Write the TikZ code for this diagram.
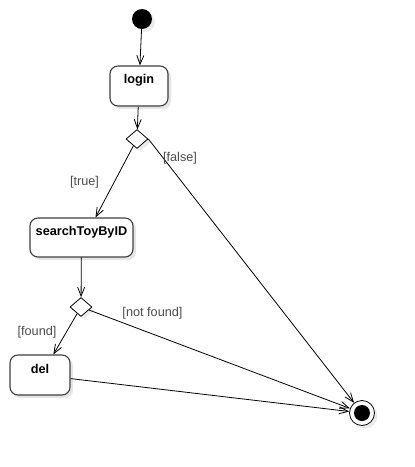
\documentclass[tikz,border=0pt]{standalone}
\usepackage{fontspec}
\setmainfont{Liberation Sans}
\usetikzlibrary{arrows.meta,shapes.geometric,shadows}

\begin{document}
\begin{tikzpicture}[x=1pt,y=1pt,yscale=-1,
  action/.style={draw=black!75, line width=1.1pt, rounded corners=8pt, fill=white,
    drop shadow={shadow xshift=3pt, shadow yshift=-3pt, fill=black!10, opacity=1}},
  actname/.style={font=\fontsize{12.7}{15}\selectfont\bfseries, inner sep=0.75pt},
  choice/.style={diamond, draw, fill=white, line width=0.8pt, inner sep=0pt,
    minimum width=22pt, minimum height=19pt,
    drop shadow={shadow xshift=3pt, shadow yshift=-3pt, fill=black!8, opacity=1}},
  guard/.style={font=\fontsize{12.7}{15}\selectfont, text=black!70, inner sep=0.75pt},
  flow/.style={draw=black, line width=0.8pt, -{Straight Barb[length=9pt,width=7pt]}}]
\useasboundingbox (0,0) rectangle (415,467);

%Shape: Initial node
\node [circle, fill=black, inner sep=0pt, minimum size=20pt,
  drop shadow={shadow xshift=3pt, shadow yshift=-3pt, fill=black!8, opacity=1}] (start) at (142,19) {};

%Shape: Actions
\node [action, minimum width=58pt, minimum height=40pt] (login) at (139,86) {};
\node [action, minimum width=103pt, minimum height=39pt] (search) at (81.5,237.5) {};
\node [action, minimum width=60pt, minimum height=40pt] (del) at (40,375) {};

%Shape: Decisions
\node [choice] (ask1) at (137,139) {};
\node [choice] (ask2) at (81,307) {};

%Shape: Final node
\node [circle, draw, fill=white, line width=0.8pt, inner sep=0pt, minimum size=25pt,
  drop shadow={shadow xshift=3pt, shadow yshift=-3pt, fill=black!8, opacity=1}] (stop) at (362,413) {};
\node [circle, fill=black, inner sep=0pt, minimum size=16pt] (stop-dot) at (stop) {};

%Straight Lines
\draw [flow] (start) -- (login);
\draw [flow] (login) -- (ask1);
\draw [flow] (ask1) -- (search.55);
\draw [flow] (ask1.east) -- (stop);
\draw [flow] (search) -- (ask2);
\draw [flow] (ask2) -- (del.57);
\draw [flow] (ask2) -- (stop);
\draw [flow] (del) -- (stop);

% Text Node
\node [actname, anchor=base] (login-txt) at (139,83) {login};
% Text Node
\node [actname, anchor=base] (search-txt) at (81.5,235) {searchToyByID};
% Text Node
\node [actname, anchor=base] (del-txt) at (40,373) {del};
% Text Node
\node [guard] (false-txt) at (180,158) {[false]};
% Text Node
\node [guard] (true-txt) at (84.5,182) {[true]};
% Text Node
\node [guard] (found-txt) at (37,332) {[found]};
% Text Node
\node [guard] (notfound-txt) at (152.5,313) {[not found]};

\end{tikzpicture}
\end{document}
